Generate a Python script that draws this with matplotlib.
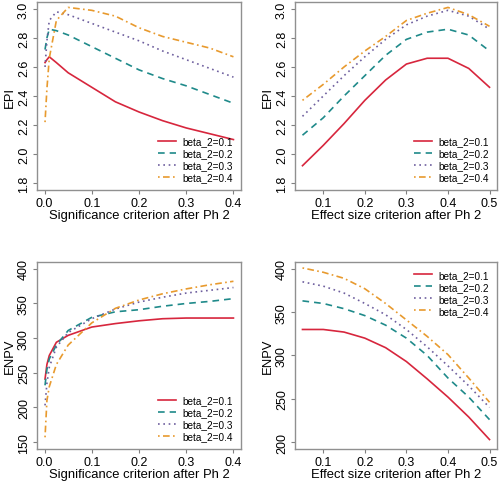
import numpy as np
import matplotlib.pyplot as plt

plt.rcParams['font.family'] = ['Liberation Sans', 'DejaVu Sans']

labels = ['beta_2=0.1', 'beta_2=0.2', 'beta_2=0.3', 'beta_2=0.4']
colors = ['#d7263d', '#1f8a8a', '#6e5f9e', '#e89a2e']
styles = ['-', (0, (4, 3)), (0, (1, 2.2)), (0, (1, 2, 4, 2))]

# significance criterion after Ph 2
sig = [0.001, 0.005, 0.01, 0.025, 0.05, 0.1, 0.15, 0.2, 0.25, 0.3, 0.35, 0.4]
# effect size criterion after Ph 2
eff = [0.05, 0.1, 0.15, 0.2, 0.25, 0.3, 0.35, 0.4, 0.45, 0.5]

epi_sig = [
    [2.63, 2.65, 2.67, 2.63, 2.56, 2.46, 2.36, 2.29, 2.23, 2.18, 2.14, 2.10],
    [2.72, 2.80, 2.86, 2.85, 2.82, 2.74, 2.66, 2.58, 2.52, 2.47, 2.41, 2.35],
    [2.60, 2.78, 2.92, 2.98, 2.96, 2.90, 2.84, 2.78, 2.71, 2.65, 2.59, 2.53],
    [2.22, 2.45, 2.66, 2.92, 3.01, 2.99, 2.95, 2.87, 2.81, 2.77, 2.73, 2.67],
]
epi_eff = [
    [1.92, 2.06, 2.21, 2.37, 2.51, 2.62, 2.66, 2.66, 2.59, 2.46],
    [2.13, 2.25, 2.40, 2.54, 2.68, 2.79, 2.84, 2.86, 2.82, 2.71],
    [2.26, 2.40, 2.54, 2.67, 2.79, 2.89, 2.95, 2.99, 2.95, 2.86],
    [2.37, 2.48, 2.60, 2.71, 2.81, 2.92, 2.97, 3.01, 2.96, 2.88],
]
enpv_sig = [
    [241, 262, 275, 294, 304, 316, 321, 325, 328, 329, 329, 329],
    [232, 255, 270, 290, 311, 330, 338, 341, 346, 350, 353, 357],
    [203, 235, 258, 287, 308, 328, 342, 352, 359, 365, 369, 373],
    [157, 210, 230, 262, 290, 322, 343, 355, 364, 371, 377, 382],
]
enpv_eff = [
    [330, 330, 327, 320, 309, 293, 273, 252, 229, 203],
    [363, 360, 354, 346, 335, 320, 300, 274, 252, 226],
    [385, 380, 372, 360, 347, 330, 310, 288, 265, 240],
    [401, 396, 389, 377, 360, 341, 322, 301, 274, 246],
]

fig = plt.figure(figsize=(5.0, 4.85), dpi=100)

panels = [
    ([0.074, 0.606, 0.408, 0.388], sig, epi_sig, 'Significance criterion after Ph 2', 'EPI',
     [0, 0.1, 0.2, 0.3, 0.4], (1.8, 3.0), np.arange(1.8, 3.01, 0.2), '{:.1f}', 'lower right'),
    ([0.590, 0.606, 0.404, 0.388], eff, epi_eff, 'Effect size criterion after Ph 2', 'EPI',
     [0.1, 0.2, 0.3, 0.4, 0.5], (1.8, 3.0), np.arange(1.8, 3.01, 0.2), '{:.1f}', 'lower right'),
    ([0.074, 0.072, 0.408, 0.386], sig, enpv_sig, 'Significance criterion after Ph 2', 'ENPV',
     [0, 0.1, 0.2, 0.3, 0.4], (150, 400), np.arange(150, 401, 50), '{:.0f}', 'lower right'),
    ([0.590, 0.072, 0.404, 0.386], eff, enpv_eff, 'Effect size criterion after Ph 2', 'ENPV',
     [0.1, 0.2, 0.3, 0.4, 0.5], (200, 400), np.arange(200, 401, 50), '{:.0f}', 'upper right'),
]

for rect, xs, ys, xlab, ylab, xt, ylim, yt, fmt, loc in panels:
    ax = fig.add_axes(rect)
    for y, c, ls, lab in zip(ys, colors, styles, labels):
        ax.plot(xs, y, color=c, linestyle=ls, linewidth=1.2, label=lab)
    if min(xs) > 0.01:
        x0, xr = min(xs), max(xs) - min(xs)
    else:
        x0, xr = 0.0, 0.4
    ax.set_xlim(x0 - 0.04 * xr, x0 + 1.04 * xr)
    yr = ylim[1] - ylim[0]
    ax.set_ylim(ylim[0] - 0.04 * yr, ylim[1] + 0.04 * yr)
    ax.set_xticks(xt)
    ax.set_xticklabels(['{:.1f}'.format(v) for v in xt])
    ax.set_yticks(yt)
    ax.set_yticklabels([fmt.format(v) for v in yt], rotation=90, va='center')
    ax.tick_params(labelsize=9, length=3, color='#808080', pad=2)
    for s in ax.spines.values():
        s.set_color('#909090')
        s.set_linewidth(1.0)
    w_px = rect[2] * 500
    h_px = rect[3] * 485
    ax.set_xlabel(xlab, fontsize=9.4, va='center')
    ax.xaxis.set_label_coords(0.5, -25.0 / h_px)
    ax.set_ylabel(ylab, fontsize=9.4, va='center')
    ax.yaxis.set_label_coords(-27.0 / w_px, 0.5)
    ax.legend(loc=loc, frameon=False, fontsize=7.2, handlelength=1.8,
              handletextpad=0.7, labelspacing=0.2, borderaxespad=0.4)

fig.savefig('out.png', dpi=100)
